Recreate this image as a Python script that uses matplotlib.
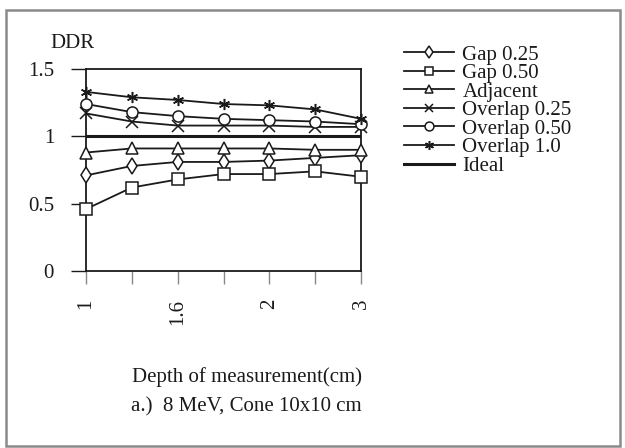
import matplotlib
matplotlib.use("Agg")
import matplotlib.pyplot as plt
from matplotlib.patches import Rectangle

plt.rcParams['font.family'] = ['Liberation Serif', 'DejaVu Serif']
plt.rcParams['font.size'] = 15

# Depth of measurement (cm) - only every other label is shown
depths = ["1", "1.3", "1.6", "1.8", "2", "2.5", "3"]

gap_025 = [0.71, 0.78, 0.81, 0.81, 0.82, 0.84, 0.86]
gap_050 = [0.46, 0.62, 0.68, 0.72, 0.72, 0.74, 0.70]
adjacent = [0.88, 0.91, 0.91, 0.91, 0.91, 0.90, 0.90]
overlap_025 = [1.17, 1.11, 1.08, 1.08, 1.08, 1.07, 1.07]
overlap_050 = [1.24, 1.18, 1.15, 1.13, 1.12, 1.11, 1.09]
overlap_100 = [1.33, 1.29, 1.27, 1.24, 1.23, 1.20, 1.13]
ideal = [1, 1, 1, 1, 1, 1, 1]

series = [
    ("Gap 0.25", gap_025, "d"),
    ("Gap 0.50", gap_050, "s"),
    ("Adjacent", adjacent, "^"),
    ("Overlap 0.25", overlap_025, "x"),
    ("Overlap 0.50", overlap_050, "o"),
    ("Overlap 1.0", overlap_100, (6, 2, 0)),
]

ink = "#1a1a1a"
x = list(range(len(depths)))

fig = plt.figure(figsize=(6.25, 4.48), dpi=100)
ax = fig.add_axes([0.1376, 0.395, 0.44, 0.451])

for name, vals, mk in series:
    ax.plot(x, vals, color=ink, lw=1.3, marker=mk, markersize=8,
            markerfacecolor="white", markeredgecolor=ink, markeredgewidth=1.1,
            label=name, clip_on=False, zorder=3)
ax.plot(x, ideal, color=ink, lw=2.2, label="Ideal", zorder=2)

ax.set_xlim(0, len(depths) - 1)
ax.set_ylim(0, 1.5)
ax.set_yticks([0, 0.5, 1, 1.5])
ax.set_yticklabels(["0", "0.5", "1", "1.5"], color=ink)
ax.set_xticks(x)
ax.set_xticklabels([d if i % 2 == 0 else "" for i, d in enumerate(depths)],
                   rotation=90, color=ink)
ax.tick_params(axis="y", direction="out", length=11, width=1, pad=12, colors=ink)
ax.tick_params(axis="x", direction="out", length=9, width=1, pad=11, colors="#888")
for lab in ax.get_xticklabels():
    lab.set_color(ink)
for s in ax.spines.values():
    s.set_color(ink)
    s.set_linewidth(1.3)

fig.text(50 / 625, 1 - 44 / 448, "DDR", color=ink, ha="left", va="center")
fig.text(247 / 625, 1 - 377 / 448, "Depth of measurement(cm)", color=ink,
         ha="center", va="center")
fig.text(246 / 625, 1 - 407 / 448, "a.)  8 MeV, Cone 10x10 cm", color=ink,
         ha="center", va="center")

fig.legend(loc="upper left", bbox_to_anchor=(404 / 625, 1 - 45 / 448),
           frameon=False, handlelength=2.4, handletextpad=0.4,
           labelspacing=-0.05, borderpad=0, borderaxespad=0, fontsize=15,
           markerscale=0.8, labelcolor=ink)

# outer border of the chart area
fig.patches.append(Rectangle((6 / 625, 2 / 448), 614 / 625, 436 / 448,
                             transform=fig.transFigure, fill=False,
                             edgecolor="#8a8a8a", lw=1.8))

fig.savefig("out.png", dpi=100)
